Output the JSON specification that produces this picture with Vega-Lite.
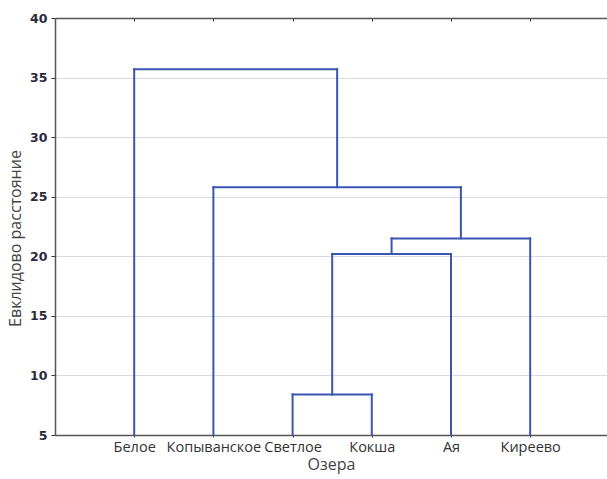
{
  "$schema": "https://vega.github.io/schema/vega-lite/v6.json",
  "autosize": "none",
  "width": 552,
  "height": 417,
  "padding": {"left": 55, "top": 18, "right": 0, "bottom": 44},
  "background": "white",
  "config": {
    "view": {"stroke": "#e6e8ea", "strokeWidth": 1},
    "axis": {"grid": false}
  },
  "data": {
    "values": [
      {"x": 3, "x2": 3, "y": 5, "y2": 8.4},
      {"x": 3, "x2": 4, "y": 8.4, "y2": 8.4},
      {"x": 4, "x2": 4, "y": 5, "y2": 8.4},
      {"x": 3.5, "x2": 3.5, "y": 8.4, "y2": 20.2},
      {"x": 3.5, "x2": 5, "y": 20.2, "y2": 20.2},
      {"x": 5, "x2": 5, "y": 5, "y2": 20.2},
      {"x": 4.25, "x2": 4.25, "y": 20.2, "y2": 21.5},
      {"x": 4.25, "x2": 6, "y": 21.5, "y2": 21.5},
      {"x": 6, "x2": 6, "y": 5, "y2": 21.5},
      {"x": 2, "x2": 2, "y": 5, "y2": 25.8},
      {"x": 2, "x2": 5.125, "y": 25.8, "y2": 25.8},
      {"x": 5.125, "x2": 5.125, "y": 21.5, "y2": 25.8},
      {"x": 1, "x2": 1, "y": 5, "y2": 35.7},
      {"x": 1, "x2": 3.5625, "y": 35.7, "y2": 35.7},
      {"x": 3.5625, "x2": 3.5625, "y": 25.8, "y2": 35.7}
    ]
  },
  "layer": [
    {
      "mark": {"type": "rule", "color": "#3b55b2", "strokeWidth": 2, "strokeCap": "square"},
      "encoding": {
        "x": {
          "field": "x", "type": "quantitative",
          "scale": {"domain": [0, 6.97], "nice": false, "zero": false},
          "axis": {
            "orient": "bottom",
            "values": [1, 2, 3, 4, 5, 6],
            "labelExpr": "['','Белое','Копыванское','Светлое','Кокша','Ая','Киреево'][datum.value]",
            "labelFont": "Open Sans", "labelFontSize": 14.5, "labelColor": "#333", "labelPadding": 3,
            "tickSize": 2, "tickColor": "#333", "domainColor": "#555", "domainWidth": 1.5,
            "title": "Озера", "titleFont": "Open Sans", "titleFontSize": 16, "titleFontWeight": "normal",
            "titleColor": "#444", "titlePadding": 3
          }
        },
        "x2": {"field": "x2"},
        "y": {
          "field": "y", "type": "quantitative",
          "scale": {"domain": [5, 40], "nice": false, "zero": false},
          "axis": {
            "values": [5, 10, 15, 20, 25, 30, 35, 40],
            "grid": true, "gridColor": "#d5dbe0", "gridWidth": 1,
            "labelFont": "DejaVu Sans", "labelFontSize": 12.5, "labelFontWeight": "bold", "labelColor": "#2a2a3a",
            "labelPadding": 4, "tickSize": 4, "tickColor": "#333", "domainColor": "#555", "domainWidth": 1.5,
            "title": "Евклидово расстояние", "titleFont": "Open Sans", "titleFontSize": 16,
            "titleFontWeight": "normal", "titleColor": "#444", "titlePadding": 6, "titleY": 220
          }
        },
        "y2": {"field": "y2"}
      }
    },
    {
      "mark": {"type": "rule", "opacity": 0},
      "encoding": {
        "x": {
          "field": "x", "type": "quantitative",
          "scale": {"domain": [0, 6.97], "nice": false, "zero": false},
          "axis": {
            "orient": "top", "values": [1, 2, 3, 4, 5, 6], "labels": false, "title": null,
            "tickSize": -3, "tickColor": "#333", "domainColor": "#555", "domainWidth": 1.5
          }
        }
      }
    }
  ],
  "resolve": {"axis": {"x": "independent"}}
}
